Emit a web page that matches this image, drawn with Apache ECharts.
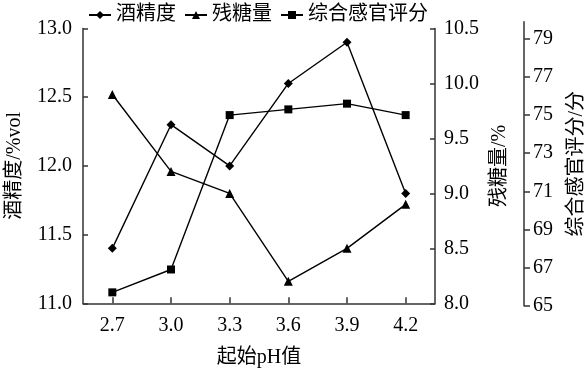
<!DOCTYPE html>
<html>
<head>
<meta charset="utf-8">
<script src="https://cdn.jsdelivr.net/npm/echarts@6/dist/echarts.min.js"></script>
<style>
html,body{margin:0;padding:0;background:#fff;}
#chart{width:586px;height:371px;}
</style>
</head>
<body>
<div id="chart"></div>
<script>
const categories = ['2.7', '3.0', '3.3', '3.6', '3.9', '4.2'];
const alcohol = [11.4, 12.3, 12.0, 12.6, 12.9, 11.8];
const residualSugar = [9.9, 9.2, 9.0, 8.2, 8.5, 8.9];
const sensoryScore = [65.7, 66.9, 75.0, 75.3, 75.6, 75.0];
const scoreTicks = [65, 67, 69, 71, 73, 75, 77, 79];

const FONT = 'Liberation Serif, Noto Sans CJK SC, serif';
const FS = 20;
const txt = {color: '#000', fontFamily: FONT, fontSize: FS};
const axisLine = {show: true, lineStyle: {color: '#333', width: 1.5}};

const chart = echarts.init(document.getElementById('chart'), null, {renderer: 'canvas'});
chart.setOption({
  animation: false,
  backgroundColor: '#fff',
  textStyle: {fontFamily: FONT},
  legend: {
    top: 0,
    left: 83,
    itemWidth: 22,
    itemHeight: 10,
    itemGap: 8,
    textStyle: Object.assign({}, txt, {padding: [0, 0, 0, 0]}),
    data: ['酒精度', '残糖量', '综合感官评分']
  },
  grid: [
    {left: 83, right: 151, top: 28.5, bottom: 67.7, containLabel: false, outerBoundsMode: 'none'},
    {left: 83, right: 151, top: 21.7, bottom: 65.3, containLabel: false, outerBoundsMode: 'none'}
  ],
  xAxis: [
    {
      type: 'category', gridIndex: 0, data: categories, boundaryGap: true,
      name: '起始pH值', nameLocation: 'middle', nameGap: 44,
      nameTextStyle: txt,
      axisLine: axisLine,
      axisTick: {show: true, inside: true, alignWithLabel: true, length: 6, lineStyle: {color: '#333', width: 1.5}},
      axisLabel: Object.assign({}, txt, {margin: 12}),
      splitLine: {show: false}
    },
    {
      type: 'category', gridIndex: 1, data: categories, boundaryGap: true, show: false
    }
  ],
  yAxis: [
    {
      type: 'value', gridIndex: 0, position: 'left', min: 11.0, max: 13.0, interval: 0.5,
      name: '酒精度/%vol', nameLocation: 'middle', nameGap: 58, nameRotate: 90,
      nameTextStyle: txt,
      axisLine: axisLine,
      axisTick: {show: true, inside: true, length: 5, lineStyle: {color: '#333', width: 1.5}},
      axisLabel: Object.assign({}, txt, {margin: 11, formatter: v => v.toFixed(1)}),
      splitLine: {show: false}
    },
    {
      type: 'value', gridIndex: 0, position: 'right', min: 8.0, max: 10.5, interval: 0.5,
      name: '残糖量/%', nameLocation: 'middle', nameGap: 42, nameRotate: 90,
      nameTextStyle: txt,
      axisLine: axisLine,
      axisTick: {show: true, inside: true, length: 5, lineStyle: {color: '#333', width: 1.5}},
      axisLabel: Object.assign({}, txt, {margin: 9, formatter: v => v.toFixed(1)}),
      splitLine: {show: false}
    },
    {
      type: 'value', gridIndex: 1, position: 'right', offset: 89, min: 65, max: 79.9,
      name: '综合感官评分/分', nameLocation: 'middle', nameGap: 43, nameRotate: 90,
      nameTextStyle: txt,
      axisLine: axisLine,
      axisTick: {show: true, inside: false, length: 6, customValues: scoreTicks, lineStyle: {color: '#333', width: 1.5}},
      axisLabel: Object.assign({}, txt, {margin: 9, customValues: scoreTicks}),
      splitLine: {show: false}
    }
  ],
  series: [
    {
      name: '酒精度', type: 'line', xAxisIndex: 0, yAxisIndex: 0, data: alcohol,
      symbol: 'diamond', symbolSize: 9,
      lineStyle: {color: '#000', width: 1.4}, itemStyle: {color: '#000'}
    },
    {
      name: '残糖量', type: 'line', xAxisIndex: 0, yAxisIndex: 1, data: residualSugar,
      symbol: 'triangle', symbolSize: 9,
      lineStyle: {color: '#000', width: 1.4}, itemStyle: {color: '#000'}
    },
    {
      name: '综合感官评分', type: 'line', xAxisIndex: 1, yAxisIndex: 2, data: sensoryScore,
      symbol: 'rect', symbolSize: 8,
      lineStyle: {color: '#000', width: 1.4}, itemStyle: {color: '#000'}
    }
  ]
});
</script>
</body>
</html>
